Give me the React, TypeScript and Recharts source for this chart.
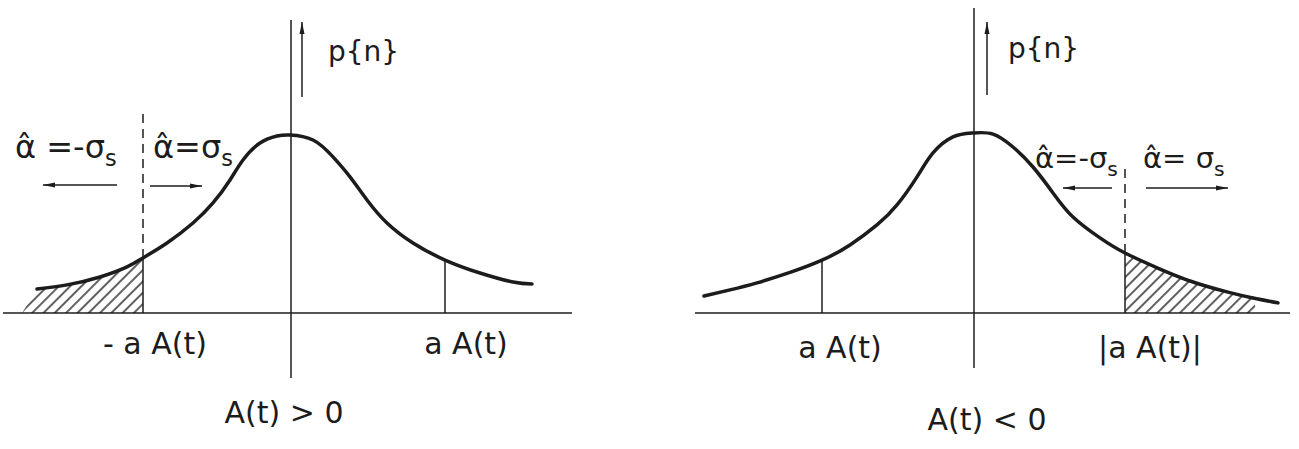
import React from 'react'
import { ComposedChart, Line, Area, XAxis, YAxis, ReferenceLine, ReferenceDot } from 'recharts'

// density curves (x in units of the spread, p relative to the peak)
const leftX = [-2.53, -2.23, -1.9, -1.63, -1.47, -1.23, -0.97, -0.77, -0.6, -0.47, -0.3, -0.13, 0, 0.23, 0.43, 0.6, 0.77, 0.97, 1.23, 1.55, 1.9, 2.23, 2.42]
const leftP = [0.133, 0.156, 0.2, 0.256, 0.306, 0.389, 0.5, 0.611, 0.739, 0.85, 0.944, 0.983, 0.989, 0.961, 0.867, 0.756, 0.628, 0.5, 0.389, 0.294, 0.222, 0.172, 0.161]
const rightX = [-2.69, -2.43, -2.16, -1.83, -1.51, -1.23, -0.96, -0.76, -0.56, -0.4, -0.2, 0, 0.2, 0.4, 0.6, 0.8, 1.0, 1.27, 1.52, 1.87, 2.2, 2.54, 2.8, 3.05]
const rightP = [0.094, 0.128, 0.167, 0.225, 0.293, 0.378, 0.489, 0.6, 0.756, 0.889, 0.978, 1.0, 0.994, 0.922, 0.811, 0.667, 0.533, 0.417, 0.333, 0.244, 0.172, 0.117, 0.083, 0.056]

// thresholds -a A(t) / a A(t)
const leftCut = -1.47
const leftMark = 1.55
const leftHatchFoot = -2.68
const rightCut = 1.52
const rightMark = -1.51
const rightHatchEnd = 2.8
const rightHatchFoot = 2.84

type Pt = { x: number; p: number }
const zip = (xs: number[], ps: number[]): Pt[] => xs.map((x, i) => ({ x, p: ps[i] }))
const pAt = (c: Pt[], x: number) => c.find((d) => d.x === x)!.p

const leftCurve = zip(leftX, leftP)
const rightCurve = zip(rightX, rightP)
const leftHatch = [{ x: leftHatchFoot, p: 0 }, ...leftCurve.filter((d) => d.x <= leftCut)]
const rightHatch = [...rightCurve.filter((d) => d.x >= rightCut && d.x <= rightHatchEnd), { x: rightHatchFoot, p: 0 }]

const INK = '#1c1c1c'
const FONT = '"DejaVu Sans", sans-serif'
const Y_DOMAIN: [number, number] = [-0.756, 1.739]

type Seg = { x1: number; y1: number; x2: number; y2: number; dash?: boolean; arrow?: boolean; w?: number }
type Note = { x: number; y: number; text: string; sub?: string; anchor?: 'start' | 'middle'; size?: number }

function Panel({ curve, hatch, domain, width, segs, notes }: {
  curve: Pt[]; hatch: Pt[]; domain: [number, number]; width: number; segs: Seg[]; notes: Note[]
}) {
  return (
    <ComposedChart width={width} height={449} margin={{ top: 0, right: 0, bottom: 0, left: 0 }}>
      <XAxis type="number" dataKey="x" domain={domain} hide allowDataOverflow />
      <YAxis type="number" domain={Y_DOMAIN} hide allowDataOverflow />
      <Area data={hatch} dataKey="p" type="linear" stroke="none" fill="url(#hatch)" fillOpacity={1} baseValue={0} dot={false} activeDot={false} isAnimationActive={false} />
      {segs.map((s, i) => (
        <ReferenceLine
          key={'s' + i}
          segment={[{ x: s.x1, y: s.y1 }, { x: s.x2, y: s.y2 }]}
          stroke={INK}
          strokeWidth={s.w ?? 1.5}
          strokeDasharray={s.dash ? '9 6' : undefined}
          markerEnd={s.arrow ? 'url(#head)' : undefined}
        />
      ))}
      <Line data={curve} dataKey="p" type="natural" stroke={INK} strokeWidth={3.5} strokeLinecap="round" dot={false} activeDot={false} isAnimationActive={false} />
      {notes.map((n, i) => (
        <ReferenceDot
          key={'n' + i}
          x={n.x}
          y={n.y}
          r={0}
          shape={(props: any) => (
            <text x={props.cx} y={props.cy} textAnchor={n.anchor ?? 'middle'} fontFamily={FONT} fontSize={n.size ?? 30} fill={INK}>
              {n.text}
              {n.sub && <tspan dy={8} fontSize={(n.size ?? 30) * 0.7}>{n.sub}</tspan>}
            </text>
          )}
        />
      ))}
    </ComposedChart>
  )
}

const leftSegs: Seg[] = [
  { x1: -2.87, y1: 0, x2: 2.82, y2: 0 },
  { x1: 0.01, y1: -0.361, x2: 0.01, y2: 1.628 },
  { x1: 0.12, y1: 1.2, x2: 0.12, y2: 1.617, arrow: true },
  { x1: leftCut, y1: 0, x2: leftCut, y2: pAt(leftCurve, leftCut) },
  { x1: leftCut, y1: pAt(leftCurve, leftCut), x2: leftCut, y2: 1.11, dash: true },
  { x1: leftMark, y1: 0, x2: leftMark, y2: pAt(leftCurve, leftMark) },
  { x1: -1.73, y1: 0.711, x2: -2.47, y2: 0.711, arrow: true },
  { x1: -1.4, y1: 0.706, x2: -0.88, y2: 0.706, arrow: true },
]
const leftNotes: Note[] = [
  { x: 0.38, y: 1.4, text: 'p{n}', anchor: 'start', size: 28 },
  { x: -1.35, y: -0.228, text: '- a A(t)' },
  { x: 1.76, y: -0.228, text: 'a A(t)' },
  { x: -0.06, y: -0.611, text: 'A(t) > 0' },
  { x: -2.75, y: 0.861, text: 'α̂ =-σ', sub: 's', anchor: 'start', size: 32 },
  { x: -1.37, y: 0.861, text: 'α̂=σ', sub: 's', anchor: 'start', size: 32 },
]

const rightSegs: Seg[] = [
  { x1: -2.78, y1: 0, x2: 3.17, y2: 0 },
  { x1: 0.01, y1: -0.306, x2: 0.01, y2: 1.694 },
  { x1: 0.14, y1: 1.211, x2: 0.14, y2: 1.617, arrow: true },
  { x1: rightCut, y1: 0, x2: rightCut, y2: pAt(rightCurve, rightCut) },
  { x1: rightCut, y1: pAt(rightCurve, rightCut), x2: rightCut, y2: 0.81, dash: true },
  { x1: rightMark, y1: 0, x2: rightMark, y2: pAt(rightCurve, rightMark) },
  { x1: 1.39, y1: 0.694, x2: 0.9, y2: 0.694, arrow: true },
  { x1: 1.73, y1: 0.694, x2: 2.55, y2: 0.694, arrow: true },
]
const rightNotes: Note[] = [
  { x: 0.35, y: 1.417, text: 'p{n}', anchor: 'start', size: 28 },
  { x: -1.33, y: -0.25, text: 'a A(t)' },
  { x: 1.77, y: -0.25, text: '|a A(t)|' },
  { x: 0.14, y: -0.65, text: 'A(t) < 0' },
  { x: 0.62, y: 0.806, text: 'α̂=-σ', sub: 's', anchor: 'start', size: 29 },
  { x: 1.7, y: 0.806, text: 'α̂= σ', sub: 's', anchor: 'start', size: 29 },
]

export default function App() {
  return (
    <div style={{ position: 'absolute', left: 0, top: 0, width: 1299, height: 449, background: '#fff' }}>
      <svg width={0} height={0} style={{ position: 'absolute' }}>
        <defs>
          <pattern id="hatch" patternUnits="userSpaceOnUse" width={8} height={8} patternTransform="rotate(45)">
            <line x1={4} y1={0} x2={4} y2={8} stroke={INK} strokeWidth={1.4} />
          </pattern>
          <marker id="head" viewBox="0 0 12 6" refX={12} refY={3} markerWidth={12} markerHeight={6} markerUnits="userSpaceOnUse" orient="auto">
            <path d="M0,0.5 L12,3 L0,5.5 z" fill={INK} />
          </marker>
        </defs>
      </svg>
      <div style={{ position: 'absolute', left: 0, top: 0 }}>
        <Panel curve={leftCurve} hatch={leftHatch} domain={[-2.9, 3.6]} width={650} segs={leftSegs} notes={leftNotes} />
      </div>
      <div style={{ position: 'absolute', left: 650, top: 0 }}>
        <Panel curve={rightCurve} hatch={rightHatch} domain={[-3.23, 3.26]} width={649} segs={rightSegs} notes={rightNotes} />
      </div>
    </div>
  )
}
